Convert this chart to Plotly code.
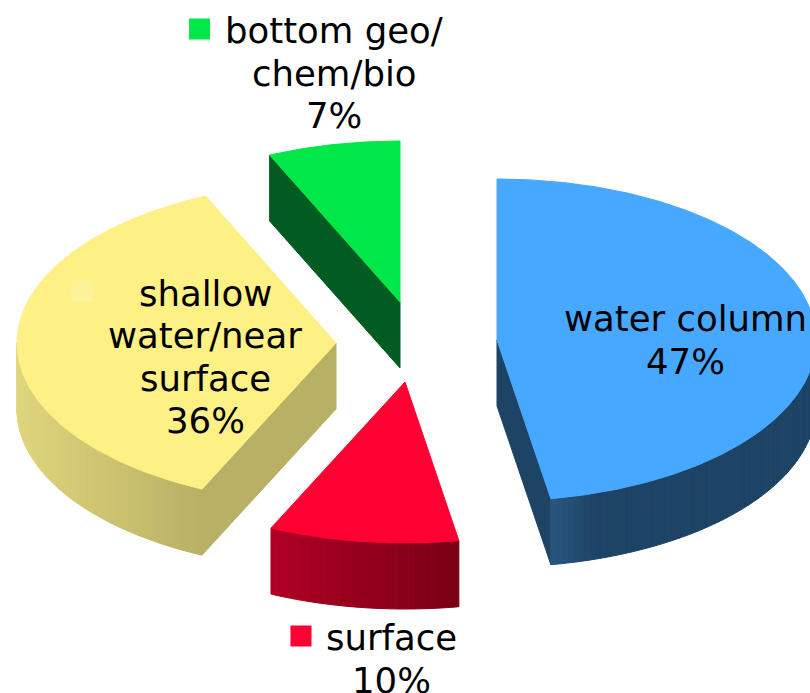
"""Exploded 3D-look pie chart of where the observations are made."""

import math

import plotly.graph_objects as go

labels = ["water column", "surface", "shallow<br>water/near<br>surface", "bottom geo/<br>chem/bio"]
# the labels show them rounded
values = [47.3, 9.6, 36.4, 6.7]

# exploded apex of each slice, in picture pixels
apex_x = [497, 405, 336, 400]
apex_y = [340, 382, 343, 302]

top_colors = ["#47A8FF", "#FF0033", "#FDF085", "#00E848"]
cut_colors = ["#1D4465", "#7A0015", "#B8B065", "#005C20"]
rim_left = ["#2A5580", "#B00025", "#E0D57C", "#005C20"]
rim_right = ["#1D4465", "#780014", "#B8B065", "#005C20"]

RX = 319
RY = 161
DEPTH = 66
FONT = "DejaVu Sans"
FONT_SIZE = 35.5
LINE_GAP = 42.3


def ellipse_point(cx, cy, deg):
    rad = math.radians(deg)
    return cx + RX * math.sin(rad), cy - RY * math.cos(rad)


def mix(c1, c2, t):
    a = [int(c1[i:i + 2], 16) for i in (1, 3, 5)]
    b = [int(c2[i:i + 2], 16) for i in (1, 3, 5)]
    return "rgb({},{},{})".format(*[round(p + (q - p) * t) for p, q in zip(a, b)])


def poly(fig, xs, ys, color):
    fig.add_trace(
        go.Scatter(
            x=xs + xs[:1],
            y=ys + ys[:1],
            mode="lines",
            fill="toself",
            fillcolor=color,
            line={"color": color, "width": 1},
            hoverinfo="skip",
            showlegend=False,
        )
    )


def draw_slice(fig, i, start, end):
    cx, cy = apex_x[i], apex_y[i]

    # flat cut faces, only the ones the viewer can see
    for deg, visible in ((start, 180 < start < 360), (end, 0 < end < 180)):
        if visible:
            ex, ey = ellipse_point(cx, cy, deg)
            poly(fig, [cx, ex, ex, cx], [cy, ey, ey + DEPTH, cy + DEPTH], cut_colors[i])

    # outer rim, shaded strip by strip
    lo, hi = max(start, 90), min(end, 270)
    if lo < hi:
        steps = max(int(hi - lo), 2)
        x_min = ellipse_point(cx, cy, hi)[0]
        x_max = ellipse_point(cx, cy, lo)[0]
        for s in range(steps):
            a = lo + (hi - lo) * s / steps
            b = lo + (hi - lo) * (s + 1) / steps
            ax, ay = ellipse_point(cx, cy, a)
            bx, by = ellipse_point(cx, cy, b)
            t = ((ax + bx) / 2 - x_min) / (x_max - x_min)
            # shading runs out quickly on the wide blue slice
            if i == 0:
                t = min(t * 6, 1)
            color = mix(rim_left[i], rim_right[i], t)
            poly(fig, [ax, bx, bx, ax], [ay, by, by + DEPTH, ay + DEPTH], color)

    # top face
    n = max(int(end - start), 2) * 2
    xs, ys = [cx], [cy]
    for s in range(n + 1):
        px, py = ellipse_point(cx, cy, start + (end - start) * s / n)
        xs.append(px)
        ys.append(py)
    poly(fig, xs, ys, top_colors[i])


fig = go.Figure()

angles = []
running = 0
for v in values:
    angles.append((running * 3.6, (running + v) * 3.6))
    running += v

for i in (3, 2, 0, 1):
    draw_slice(fig, i, *angles[i])

# legend keys that sit beside the data labels
fig.add_trace(
    go.Scatter(
        x=[199.5, 301, 82],
        y=[29, 636, 291],
        mode="markers",
        marker={"symbol": "square", "size": 21, "color": ["#00E848", "#FF0033", "#FDF49A"]},
        hoverinfo="skip",
        showlegend=False,
    )
)

# centre of each label block, one annotation per line for exact spacing
label_x = [685, 391, 205, 334]
label_y = [340, 659, 357, 73]
for i, name in enumerate(labels):
    lines = name.split("<br>") + [f"{values[i]:.0f}%"]
    top = label_y[i] - LINE_GAP * (len(lines) - 1) / 2
    for k, line in enumerate(lines):
        fig.add_annotation(
            x=label_x[i],
            y=top + k * LINE_GAP,
            text=line,
            showarrow=False,
            font={"family": FONT, "size": FONT_SIZE, "color": "#000000"},
        )

fig.update_layout(
    width=810,
    height=693,
    margin={"l": 0, "r": 0, "t": 0, "b": 0},
    paper_bgcolor="white",
    plot_bgcolor="white",
    xaxis={"range": [0, 810], "visible": False, "fixedrange": True},
    yaxis={"range": [693, 0], "visible": False, "fixedrange": True},
)

fig.write_html(
    "out.html",
    config={"displayModeBar": False},
    post_script="document.body.style.margin='0';",
)
